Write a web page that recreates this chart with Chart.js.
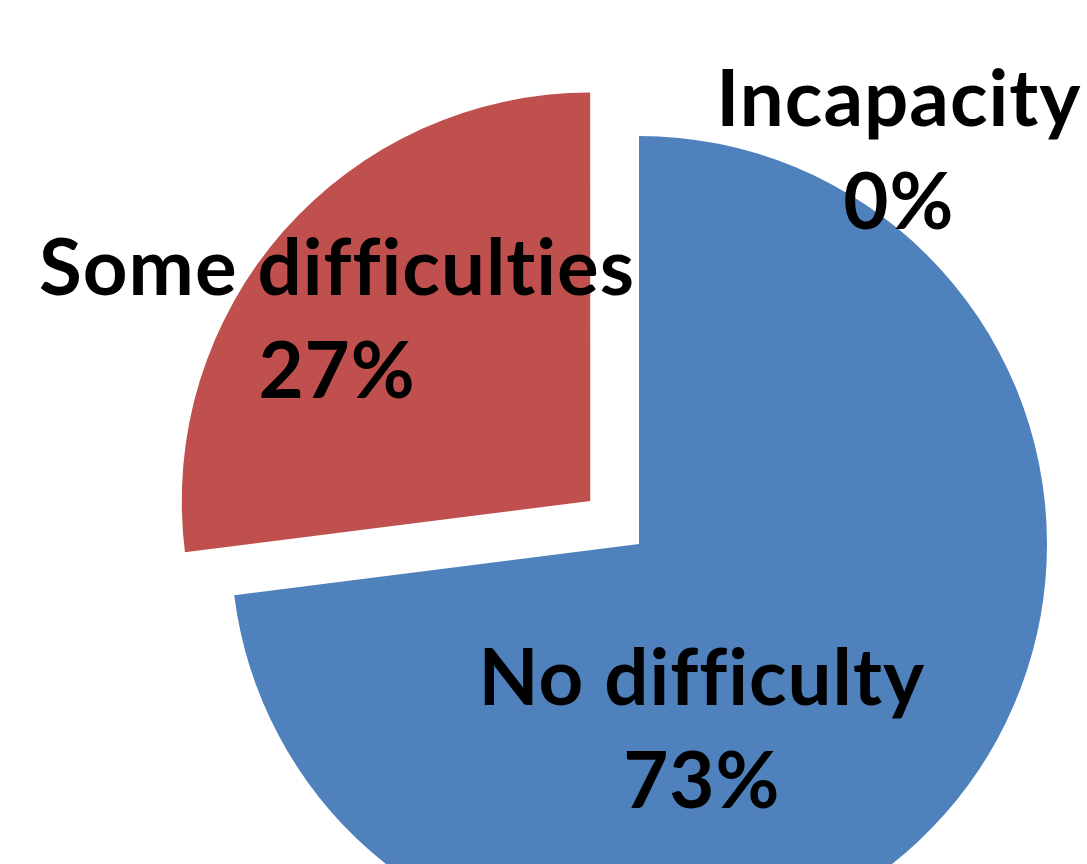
<!DOCTYPE html>
<html>
<head>
<meta charset="utf-8">
<script src="https://cdn.jsdelivr.net/npm/chart.js@4/dist/chart.umd.min.js"></script>
<style>
    html, body { margin: 0; padding: 0; background: #fff; overflow: hidden; }
</style>
</head>
<body>
<canvas id="pieStat" width="1087" height="864"></canvas>
<script>
const categories = ["No difficulty", "Some difficulties", "Incapacity"];
const percents = [73, 27, 0];
const sliceColors = ["#4F81BD", "#C0504D", "#9BBB59"];
const explode = [0, 260, 0];

// where each label sits, as fractions of the radius from the pie centre
const labelSpots = [[0.154, 0.395], [-0.740, -0.610], [0.637, -1.025]];

const pieLabels = {
    id: 'pieLabels',
    afterDatasetsDraw(chart) {
        let ctx = chart.ctx;
        let arcs = chart.getDatasetMeta(0).data;
        ctx.save();
        ctx.fillStyle = "#000";
        ctx.textAlign = "center";
        ctx.textBaseline = "alphabetic";
        ctx.font = "bold 78px Lato";
        ctx.letterSpacing = "1px"; // also stops the ti / ffi ligatures
        for (let i = 0; i < arcs.length; i++) {
            let arc = arcs[i];
            let r = arc.outerRadius;
            let x = arc.x + labelSpots[i][0] * r;
            let y = arc.y + labelSpots[i][1] * r;
            ctx.fillText(categories[i], x, y);
            ctx.fillText(percents[i] + "%", x, y + 103);
        }
        ctx.restore();
    }
};

let ctx = document.getElementById("pieStat").getContext("2d");
new Chart(ctx, {
    type: 'pie',
    data: {
        labels: categories,
        datasets: [{
            data: percents,
            backgroundColor: sliceColors,
            borderWidth: 0,
            offset: explode,
            clip: false
        }]
    },
    options: {
        responsive: false,
        animation: false,
        radius: 408,
        layout: {
            padding: { left: 191, top: 224, right: 0, bottom: 0 }
        },
        plugins: {
            legend: { display: false },
            tooltip: { enabled: false }
        }
    },
    plugins: [pieLabels]
});
</script>
</body>
</html>
